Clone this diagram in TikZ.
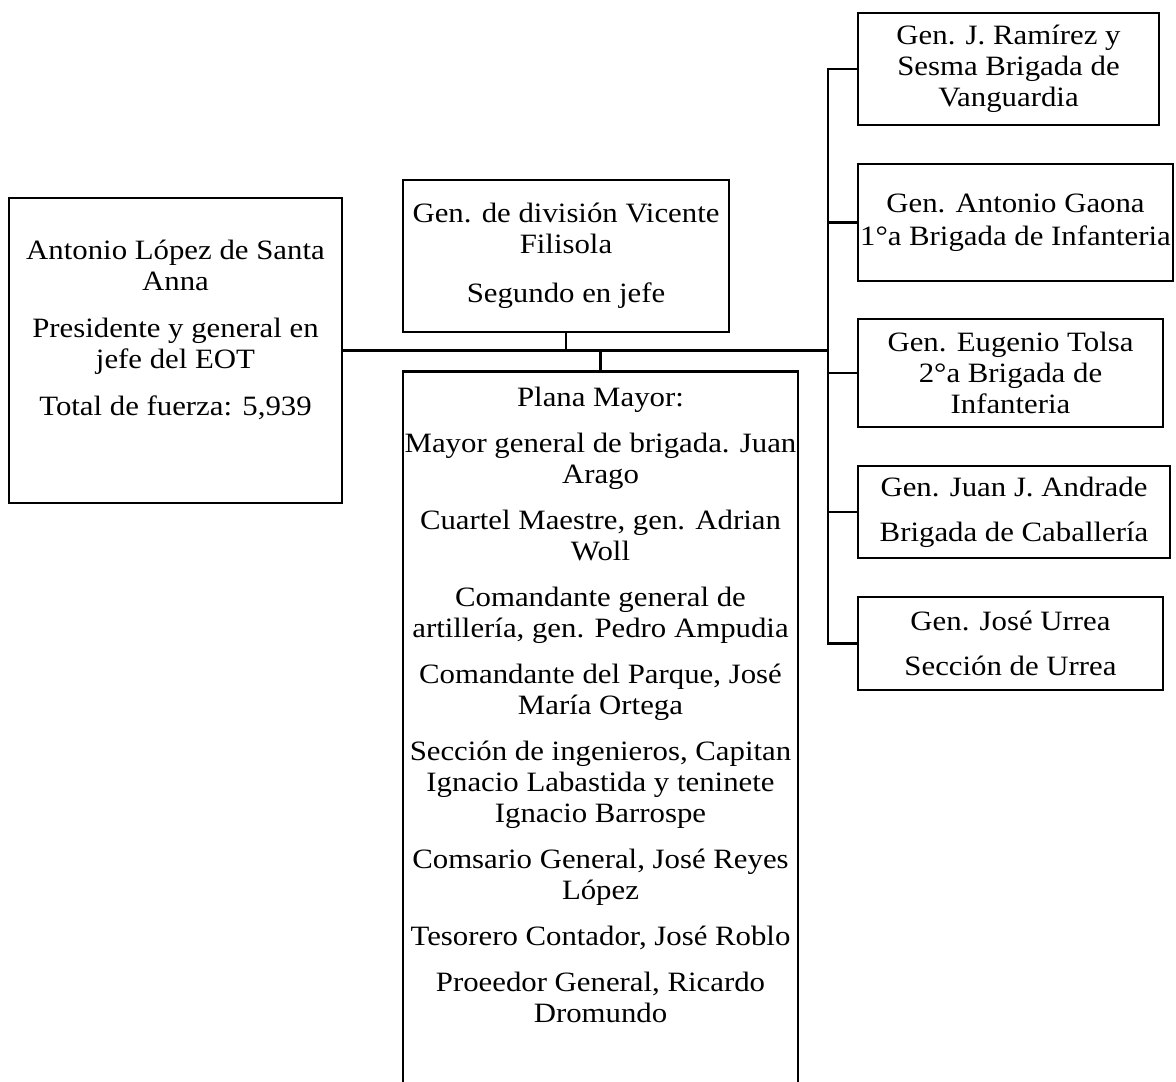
\documentclass[tikz,border=0pt]{standalone}
\usepackage{fontspec}
\setmainfont{Liberation Serif}[FakeStretch=1.1]
\begin{document}
\begin{tikzpicture}[x=1pt, y=-1pt,
		caja/.style = {draw, line width=2.6pt, align=center, inner sep=0pt},
		enlace/.style = {line width=2.4pt},
		font=\fontsize{28}{31}\selectfont]
			\useasboundingbox (0,0) rectangle (1176,1082);

			% jefe y segundo
			\node[caja, minimum width=333, minimum height=305] (santa) at (175.5,350.5) {Antonio López de Santa\\ Anna\\[16pt] Presidente y general en\\ jefe del EOT\\[16pt] Total de fuerza: 5,939\rule[-46pt]{0pt}{46pt}};
			\node[caja, minimum width=326, minimum height=152] (filisola) at (566,256) {Gen. de división Vicente\\ Filisola\\[18pt] Segundo en jefe};
			\node[caja, minimum width=395, inner ysep=16pt, anchor=north] (plana) at (600.5,370) {Plana Mayor:\\[15pt]
				Mayor general de brigada. Juan\\ Arago\\[15pt]
				Cuartel Maestre, gen. Adrian\\ Woll\\[15pt]
				Comandante general de\\ artillería, gen. Pedro Ampudia\\[15pt]
				Comandante del Parque, José\\ María Ortega\\[15pt]
				Sección de ingenieros, Capitan\\ Ignacio Labastida y teninete\\ Ignacio Barrospe\\[15pt]
				Comsario General, José Reyes\\ López\\[15pt]
				Tesorero Contador, José Roblo\\[15pt]
				Proeedor General, Ricardo\\ Dromundo\rule[-150pt]{0pt}{150pt}};

			% brigadas
			\node[caja, minimum width=301, minimum height=112] (ramirez) at (1008.5,69) {Gen. J. Ramírez y\\ Sesma Brigada de\\ Vanguardia};
			\node[caja, minimum width=315, minimum height=117] (gaona) at (1015.5,222.5) {Gen. Antonio Gaona\\[2pt] 1°a Brigada de Infanteria};
			\node[caja, minimum width=305, minimum height=108] (tolsa) at (1010.5,373) {Gen. Eugenio Tolsa\\ 2°a Brigada de\\ Infanteria};
			\node[caja, minimum width=312, minimum height=92] (andrade) at (1014,512) {Gen. Juan J. Andrade\\[14pt] Brigada de Caballería};
			\node[caja, minimum width=305, minimum height=93] (urrea) at (1010.5,643.5) {Gen. José Urrea\\[14pt] Sección de Urrea};

			\coordinate (eje) at (828,350.5);

			\draw[line width=3.8pt] (santa.east) -- (eje);
			\draw[enlace] (filisola.south) -- (filisola.south |- eje)
			(plana.north) -- (plana.north |- eje);
			\draw[enlace, line width=2.8pt, line cap=rect] (eje |- ramirez.west) -- (eje |- urrea.west);
			\foreach \b in {ramirez,gaona,tolsa,andrade,urrea}
				\draw[enlace] (eje |- \b.west) -- (\b.west);
		\end{tikzpicture}
\end{document}
